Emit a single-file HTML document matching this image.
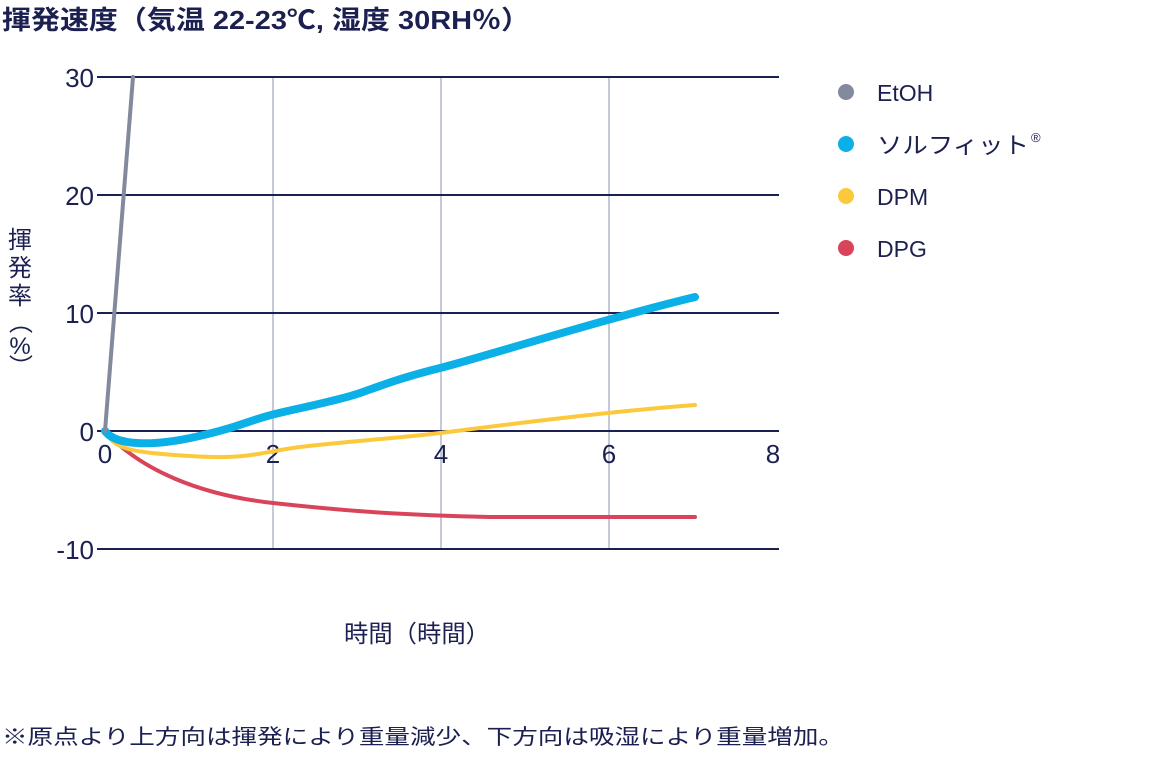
<!DOCTYPE html>
<html><head><meta charset="utf-8"><style>
body{margin:0;background:#fff;}
svg text{font-family:"Liberation Sans","Noto Sans CJK JP",sans-serif;fill:#1b2050;}
</style></head><body>
<svg width="1160" height="752" xmlns="http://www.w3.org/2000/svg">
<text x="2" y="29" font-size="26" font-weight="bold" textLength="528" lengthAdjust="spacingAndGlyphs">揮発速度（気温 22-23℃, 湿度 30RH％）</text>
<g stroke="#c5cad8" stroke-width="2">
<line x1="273" y1="77" x2="273" y2="549"/>
<line x1="441" y1="77" x2="441" y2="549"/>
<line x1="609" y1="77" x2="609" y2="549"/>
</g>
<g stroke="#1b2050" stroke-width="2">
<line x1="97" y1="77" x2="779" y2="77"/>
<line x1="97" y1="195" x2="779" y2="195"/>
<line x1="97" y1="313" x2="779" y2="313"/>
<line x1="97" y1="431" x2="779" y2="431"/>
<line x1="97" y1="549" x2="779" y2="549"/>
</g>
<g font-size="26" text-anchor="end">
<text x="94" y="87">30</text>
<text x="94" y="205">20</text>
<text x="94" y="323">10</text>
<text x="94" y="441">0</text>
<text x="94" y="559">-10</text>
</g>
<g font-size="26" text-anchor="middle">
<text x="105" y="463">0</text>
<text x="273" y="463">2</text>
<text x="441" y="463">4</text>
<text x="609" y="463">6</text>
<text x="773" y="463">8</text>
</g>
<g font-size="24" text-anchor="middle">
<text x="20" y="248">揮</text>
<text x="20" y="276">発</text>
<text x="20" y="304">率</text>
<text x="20" y="330" transform="rotate(90 20 322)">（</text>
<text x="20" y="354">%</text>
<text x="20" y="374" transform="rotate(90 20 366)">）</text>
</g>
<text x="344" y="642" font-size="24" textLength="146" lengthAdjust="spacingAndGlyphs">時間（時間）</text>
<text x="2" y="744" font-size="21" textLength="842" lengthAdjust="spacingAndGlyphs">※原点より上方向は揮発により重量減少、下方向は吸湿により重量増加。</text>
<g fill="none" stroke-linecap="round">
<path d="M105,431 C140,470 200,495 273,503 S400,515 490,517 L695,517" stroke="#d9445a" stroke-width="4"/>
<path d="M105,431 C115,450 130,452 190,456 S260,452 300,447 S400,438 440,433 S600,412 695,405" stroke="#fcc83c" stroke-width="4"/>
<path d="M105,431 C115,445 150,447 195,437 S250,420 275,414 S340,400 360,393 S400,378 440,368 S600,320 695,297" stroke="#0ab0e6" stroke-width="8"/>
<path d="M105,431 L133,77" stroke="#848a9e" stroke-width="4"/>
</g>
<circle cx="846" cy="92" r="8" fill="#848a9e"/>
<circle cx="846" cy="144" r="8" fill="#0ab0e6"/>
<circle cx="846" cy="196" r="8" fill="#fcc83c"/>
<circle cx="846" cy="248" r="8" fill="#d9445a"/>
<g font-size="23">
<text x="877" y="101">EtOH</text>
<text x="877" y="153" textLength="152" lengthAdjust="spacingAndGlyphs">ソルフィット</text>
<text x="1031" y="142" font-size="13">®</text>
<text x="877" y="205">DPM</text>
<text x="877" y="257">DPG</text>
</g>
</svg>
</body></html>
